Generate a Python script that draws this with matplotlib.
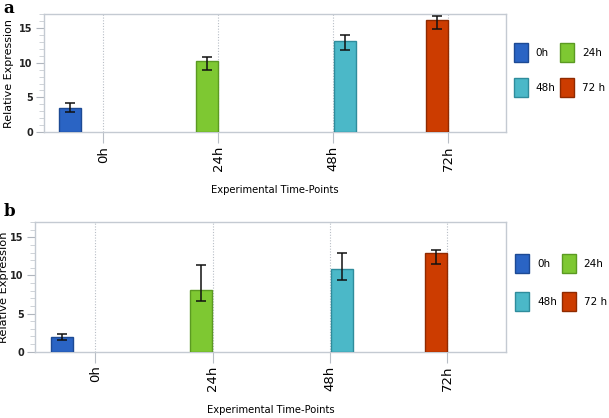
import matplotlib
matplotlib.use("Agg")
import matplotlib.pyplot as plt
from matplotlib.patches import Patch
from matplotlib.ticker import MultipleLocator
import numpy as np

categories = ["0h", "24h", "48h", "72h"]
legend_labels = ["0h", "24h", "48h", "72 h"]

# Panel a
a_values = [3.5, 10.2, 13.2, 16.1]
a_err_low = [0.55, 1.3, 1.35, 1.3]
a_err_high = [0.65, 0.6, 0.8, 0.6]

# Panel b
b_values = [1.9, 8.1, 10.8, 12.9]
b_err_low = [0.35, 1.4, 1.45, 1.4]
b_err_high = [0.4, 3.3, 2.2, 0.5]

yticks = [0, 5, 10, 15]

face_colors = ["#2a64c4", "#7ec832", "#4bb8c8", "#cc3c00"]
edge_colors = ["#1d4a94", "#5b9a22", "#2f8c9c", "#8f2a00"]
bar_offsets = [-0.285, -0.10, 0.10, -0.095]
bar_width = 0.19

fig = plt.figure(figsize=(6.09, 4.18), dpi=100)

def draw_panel(rect, values, elow, ehigh, letter, letter_y, legend_anchor,
               ylab_x, ylab_size, row_spacing):
    ax = fig.add_axes(rect)
    x = np.arange(len(categories))
    for i in range(len(categories)):
        ax.bar(x[i] + bar_offsets[i], values[i], width=bar_width,
               color=face_colors[i], edgecolor=edge_colors[i], linewidth=1.0,
               zorder=3)
        ax.errorbar(x[i] + bar_offsets[i], values[i],
                    yerr=[[elow[i]], [ehigh[i]]], fmt='none', ecolor='#111111',
                    elinewidth=1.1, capsize=3.5, capthick=1.1, zorder=4)
    for xi in x:
        ax.axvline(xi, color='#b8bec6', linestyle=(0, (1, 1.5)), linewidth=0.8,
                   zorder=1)
    ax.set_xlim(-0.515, 3.5)
    ax.set_ylim(0, 17)
    ax.set_xticks(x)
    ax.set_xticklabels(categories, rotation=90, fontsize=9.5)
    ax.tick_params(axis='x', length=8, color='#b8bec6', pad=2, width=0.8)
    ax.set_yticks(yticks)
    ax.yaxis.set_minor_locator(MultipleLocator(1))
    ax.tick_params(axis='y', which='major', length=6, color='#b0b6be',
                   labelsize=7, pad=2, width=0.8)
    ax.tick_params(axis='y', which='minor', length=3.5, color='#c8ccd2',
                   width=0.6)
    for lbl in ax.get_yticklabels():
        lbl.set_fontweight('bold')
        lbl.set_color('#222222')
    for s in ax.spines.values():
        s.set_color('#c4cad2')
        s.set_linewidth(1.0)
    ax.set_ylabel("Relative Expression", fontsize=ylab_size)
    ax.yaxis.set_label_coords(ylab_x, 0.5)
    ax.set_xlabel("Experimental Time-Points", fontsize=7.2, labelpad=10)
    handles = [Patch(facecolor=face_colors[i], edgecolor=edge_colors[i],
                     linewidth=1.0, label=legend_labels[i]) for i in range(4)]
    order = [0, 2, 1, 3]
    ax.legend(handles=[handles[k] for k in order], ncol=2, loc='upper left',
              bbox_to_anchor=legend_anchor, bbox_transform=fig.transFigure,
              frameon=False, borderpad=0, borderaxespad=0, fontsize=7.5,
              handlelength=1.35, handleheight=2.43,
              handletextpad=0.75, columnspacing=0.45, labelspacing=row_spacing)
    fig.text(0.006, letter_y, letter, fontsize=12, fontweight='bold',
             family='DejaVu Serif', va='top')
    return ax

draw_panel([0.0722, 0.684, 0.758, 0.282], a_values, a_err_low, a_err_high,
           "a", 1.0, (0.844, 0.897), -0.065, 8, 1.54)
draw_panel([0.0575, 0.1586, 0.7734, 0.310], b_values, b_err_low, b_err_high,
           "b", 0.515, (0.846, 0.392), -0.056, 8.2, 1.83)

fig.savefig("out.png", dpi=100)
